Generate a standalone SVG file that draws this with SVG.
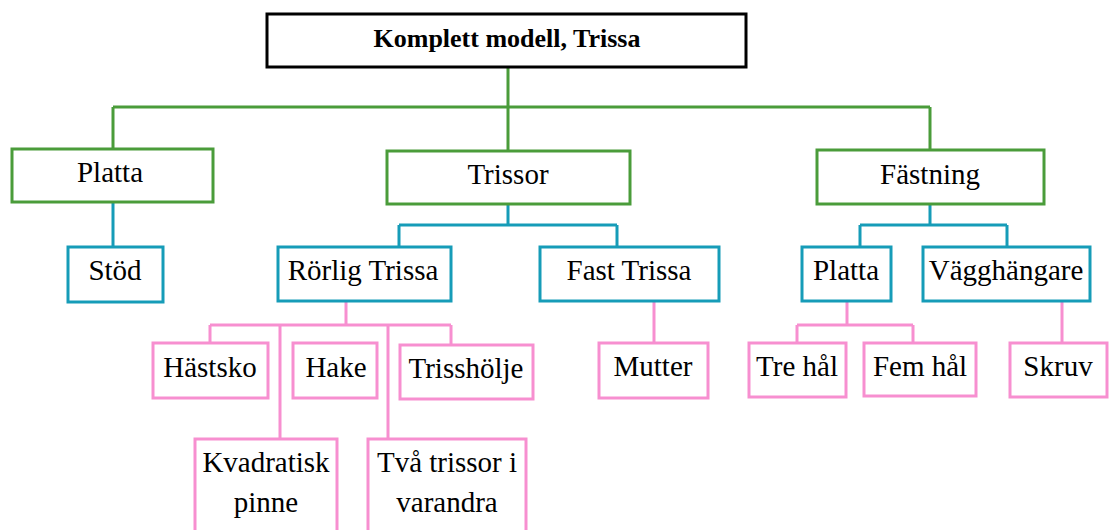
<svg xmlns="http://www.w3.org/2000/svg" width="1109" height="530" viewBox="0 0 1109 530">
<style>
.box{fill:#fff;stroke-width:3}
.root{stroke:#000}
.g{stroke:#4a9c3a}
.b{stroke:#169cb8}
.p{stroke:#f78fd0}
.ln{fill:none;stroke-width:3}
text{font-family:'Liberation Serif','Times New Roman',Times,Tinos,'Nimbus Roman','DejaVu Serif',serif;font-size:29px;fill:#000;text-anchor:middle}
.t0{font-weight:bold;font-size:26px}
</style>
<rect width="1109" height="530" fill="#fff"/>
<g id="connectors">
<path class="ln g" d="M508,67V107M113,107H930M113,107V149M508,107V151M930,107V150"/>
<path class="ln b" d="M113,202V247M508,204V225M399,225H617M399,225V247M617,225V247M930,204V225M860,225H1007M860,225V247M1007,225V247"/>
<path class="ln p" d="M346,301V325M210,325H451M210,325V343M280,325V439M388,325V439M451,325V345M654,301V343M847,301V325M797,325H913M797,325V343M913,325V343M1062,301V343"/>
</g>
<g id="n-root"><rect class="box root" x="267" y="14" width="479" height="53"/><text class="t0" x="507" y="47">Komplett modell, Trissa</text></g>
<g id="n-platta"><rect class="box g" x="12" y="149" width="201" height="53"/><text x="110" y="182">Platta</text></g>
<g id="n-trissor"><rect class="box g" x="387" y="151" width="243" height="53"/><text x="508" y="184">Trissor</text></g>
<g id="n-fastning"><rect class="box g" x="817" y="150" width="227" height="54"/><text x="930" y="184">Fästning</text></g>
<g id="n-stod"><rect class="box b" x="68" y="247" width="95" height="55"/><text x="115" y="280">Stöd</text></g>
<g id="n-rorlig"><rect class="box b" x="278" y="247" width="173" height="54"/><text x="363" y="280">Rörlig Trissa</text></g>
<g id="n-fast"><rect class="box b" x="540" y="247" width="179" height="54"/><text x="629" y="280">Fast Trissa</text></g>
<g id="n-platta2"><rect class="box b" x="802" y="247" width="89" height="54"/><text x="846" y="280">Platta</text></g>
<g id="n-vagg"><rect class="box b" x="923" y="247" width="167" height="54"/><text x="1006" y="280">Vägghängare</text></g>
<g id="n-hastsko"><rect class="box p" x="153" y="343" width="115" height="55"/><text x="210" y="377">Hästsko</text></g>
<g id="n-hake"><rect class="box p" x="293" y="343" width="84" height="55"/><text x="336" y="377">Hake</text></g>
<g id="n-trissholje"><rect class="box p" x="400" y="345" width="133" height="54"/><text x="466" y="378">Trisshölje</text></g>
<g id="n-kvad"><rect class="box p" x="195" y="439" width="142" height="106"/><text x="266" y="472">Kvadratisk</text><text x="266" y="512">pinne</text></g>
<g id="n-tva"><rect class="box p" x="368" y="439" width="158" height="106"/><text x="447" y="472">Två trissor i</text><text x="447" y="512">varandra</text></g>
<g id="n-mutter"><rect class="box p" x="599" y="343" width="109" height="55"/><text x="653" y="376">Mutter</text></g>
<g id="n-tre"><rect class="box p" x="749" y="343" width="97" height="54"/><text x="797" y="376">Tre hål</text></g>
<g id="n-fem"><rect class="box p" x="864" y="343" width="112" height="53"/><text x="920" y="376">Fem hål</text></g>
<g id="n-skruv"><rect class="box p" x="1010" y="343" width="97" height="54"/><text x="1058" y="376">Skruv</text></g>
</svg>
